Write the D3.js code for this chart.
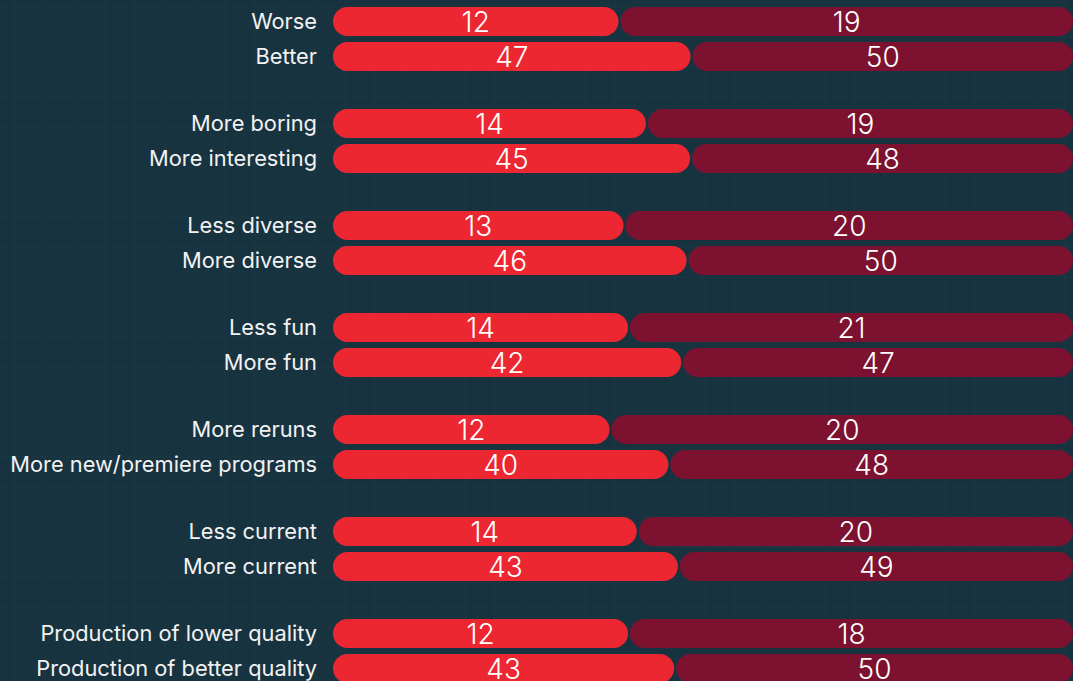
<!DOCTYPE html>
<meta charset="utf-8">
<style>
body { margin: 0; background: #183340; overflow: hidden; }
svg { display: block; }
.grid line { stroke: #1b3845; stroke-width: 1; }
.label { fill: #f2f2f2; font-family: "Inter", sans-serif; font-size: 21.8px; }
.value { fill: #ffffff; font-family: "Inter", sans-serif; font-size: 28px; font-weight: 300; }
</style>
<svg width="1073" height="681"></svg>
<script src="https://d3js.org/d3.v7.min.js"></script>
<script>

// answers, top to bottom, in pairs
var categories = [
  "Worse", "Better",
  "More boring", "More interesting",
  "Less diverse", "More diverse",
  "Less fun", "More fun",
  "More reruns", "More new/premiere programs",
  "Less current", "More current",
  "Production of lower quality", "Production of better quality"
];
var seriesA = [12, 47, 14, 45, 13, 46, 14, 42, 12, 40, 14, 43, 12, 43];
var seriesB = [19, 50, 19, 48, 20, 50, 21, 47, 20, 48, 20, 49, 18, 50];

var svg = d3.select("svg"),
    width = +svg.attr("width"),
    height = +svg.attr("height");

// faint background grid
var grid = svg.append("g").attr("class", "grid");
grid.selectAll("line.v")
    .data(d3.range(15, width, 30))
    .enter().append("line")
    .attr("x1", function(d) { return d; }).attr("x2", function(d) { return d; })
    .attr("y1", 0).attr("y2", height);
grid.selectAll("line.h")
    .data(d3.range(7, height, 30))
    .enter().append("line")
    .attr("x1", 0).attr("x2", width)
    .attr("y1", function(d) { return d; }).attr("y2", function(d) { return d; });

var barLeft = 333, barRight = 1073, gap = 2, barH = 29;

// row positions: pairs of rows, extra space between pairs
function rowY(i) {
  var group = Math.floor(i / 2), inner = i % 2;
  return 7 + group * 102 + inner * 35;
}

var rows = categories.map(function(c, i) {
  return {name: c, a: seriesA[i], b: seriesB[i], y: rowY(i)};
});

var row = svg.selectAll("g.row")
    .data(rows)
    .enter().append("g")
    .attr("class", "row")
    .attr("transform", function(d) { return "translate(0," + d.y + ")"; });

row.append("text")
    .attr("class", "label")
    .attr("x", 317)
    .attr("y", barH / 2)
    .attr("dy", "0.35em")
    .attr("text-anchor", "end")
    .text(function(d) { return d.name; });

row.each(function(d) {
  var g = d3.select(this);
  var x = d3.scaleLinear().domain([0, d.a + d.b]).range([barLeft, barRight]);
  var segs = [
    {x0: x(0), x1: x(d.a) - gap / 2, v: d.a, color: "#ec2732"},
    {x0: x(d.a) + gap / 2, x1: x(d.a + d.b), v: d.b, color: "#7d1230"}
  ];
  g.selectAll("rect")
    .data(segs)
    .enter().append("rect")
    .attr("x", function(s) { return s.x0; })
    .attr("width", function(s) { return s.x1 - s.x0; })
    .attr("y", 0)
    .attr("height", barH)
    .attr("rx", barH / 2)
    .attr("fill", function(s) { return s.color; });
  g.selectAll("text.value")
    .data(segs)
    .enter().append("text")
    .attr("class", "value")
    .attr("x", function(s) { return (s.x0 + s.x1) / 2; })
    .attr("y", barH / 2)
    .attr("dy", "0.38em")
    .attr("text-anchor", "middle")
    .text(function(s) { return s.v; });
});

</script>
